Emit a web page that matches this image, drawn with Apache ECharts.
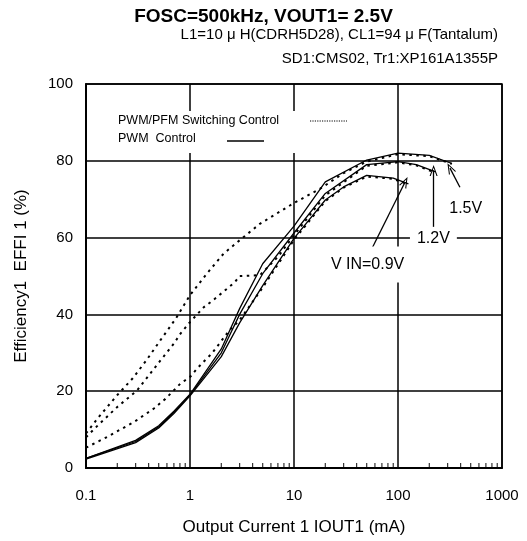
<!DOCTYPE html>
<html><head><meta charset="utf-8">
<script src="https://cdn.jsdelivr.net/npm/echarts@6/dist/echarts.min.js"></script>
<style>html,body{margin:0;padding:0;background:#fff}#c{width:527px;height:541px}</style>
</head><body><div id="c"></div>
<script>
// ---- text ----
const titleText = 'FOSC=500kHz, VOUT1= 2.5V';
const subText1 = 'L1=10 \u03bc H(CDRH5D28), CL1=94 \u03bc F(Tantalum)';
const subText2 = 'SD1:CMS02, Tr1:XP161A1355P';
const xAxisName = 'Output Current 1 IOUT1 (mA)';
const yAxisName = 'Efficiency1  EFFI 1 (%)';
const legendNames = ['PWM/PFM Switching Control', 'PWM  Control'];
const xTickLabels = ['0.1', '1', '10', '100', '1000'];
const yTickLabels = [0, 20, 40, 60, 80, 100];
const minorTickValues = [0.2,0.3,0.4,0.5,0.6,0.7,0.8,0.9,2,3,4,5,6,7,8,9,20,30,40,50,60,70,80,90,200,300,400,500,600,700,800,900];

// ---- PWM control (solid) ----
const pwm15X = [0.1, 0.3, 0.5, 0.7, 1, 2, 3, 5, 10, 20, 50, 100, 200, 330];
const pwm15Y = [2.5, 7.2, 11, 14.8, 19.2, 31, 41.5, 53.2, 63, 74.5, 80.2, 82, 81.4, 79.3];
const pwm12X = [0.1, 0.3, 0.5, 0.7, 1, 2, 3, 5, 10, 20, 50, 100, 150, 230];
const pwm12Y = [2.5, 6.9, 10.7, 14.5, 19, 30, 40, 50.6, 61.2, 71.5, 79, 79.8, 79, 77.1];
const pwm09X = [0.1, 0.3, 0.5, 0.7, 1, 2, 3, 5, 10, 20, 30, 50, 90, 126];
const pwm09Y = [2.3, 6.6, 10.4, 14.2, 18.8, 29, 37.8, 47.5, 59.8, 69.8, 73.2, 76.2, 75.5, 74];

// ---- PWM/PFM switching control (dotted) ----
const pfm15X = [0.1, 0.13, 0.2, 0.28, 0.38, 0.52, 0.73, 1, 1.45, 2.1, 3, 4.7, 10, 18, 30, 50, 100, 200, 330];
const pfm15Y = [9, 13, 19, 23.3, 28, 33.3, 38.9, 45, 50.6, 55.8, 59.3, 63.6, 69, 72.8, 76.8, 79.8, 81.7, 81.2, 79.2];
const pfm12X = [0.1, 0.13, 0.2, 0.31, 0.52, 0.7, 0.81, 1, 1.36, 1.67, 2.7, 3, 4.7, 7, 10, 20, 50, 100, 150, 230];
const pfm12Y = [8, 11.1, 15.9, 20.2, 28, 32.4, 35, 38, 41.9, 43.7, 48.4, 50, 50.2, 55, 60.6, 71, 78.7, 79.6, 78.8, 76.9];
const pfm09X = [0.1, 0.16, 0.29, 0.45, 0.58, 0.81, 1, 1.17, 1.39, 1.62, 2.4, 3, 5, 10, 20, 30, 50, 90, 126];
const pfm09Y = [5.3, 8.1, 12, 15.5, 18, 22, 23.7, 25.9, 28, 29.8, 35.9, 38.5, 47, 59.4, 69.5, 73, 75.9, 75.3, 73.8];

// ---- annotations (data coordinates) ----
const annLabels = [
  {text: '1.5V', x: 448, y: 67.6},
  {text: '1.2V', x: 219, y: 59.8},
  {text: 'V IN=0.9V', x: 51, y: 53.0}
];
const annArrows = [
  {from: [394, 73.1], to: [316, 78.1]},
  {from: [220, 62.8], to: [220, 77.5]},
  {from: [56, 57.1], to: [117, 74.5]}
];

const FONT = "'Liberation Sans', Arial, sans-serif";
const zip = (xs, ys) => xs.map((x, i) => [x, ys[i]]);
const solidStyle = {color: '#000', width: 1.3, type: 'solid'};
const dotStyle = {color: '#000', width: 2, type: [2.5, 4.5]};

function mk(name, xs, ys, style, extra) {
  return Object.assign({
    name: name, type: 'line', data: zip(xs, ys), symbol: 'none',
    lineStyle: style, itemStyle: {color: '#000'}, z: 3, animation: false
  }, extra || {});
}

const chevron = 'path://M0,10 L5,0 L10,10 L8.6,10 L5,2.6 L1.4,10 Z';

const series = [
  mk(legendNames[0], pfm15X, pfm15Y, dotStyle),
  mk(legendNames[0], pfm12X, pfm12Y, dotStyle),
  mk(legendNames[0], pfm09X, pfm09Y, dotStyle),
  mk(legendNames[1], pwm15X, pwm15Y, solidStyle, {
    markLine: {
      silent: true, animation: false,
      symbol: ['none', chevron], symbolSize: [8, 11],
      lineStyle: {color: '#000', width: 1.3, type: 'solid'},
      label: {show: false},
      data: annArrows.map(a => [{coord: a.from}, {coord: a.to}])
    },
    markPoint: {
      silent: true, animation: false,
      symbol: 'rect', symbolSize: 0,
      data: annLabels.map(l => ({
        coord: [l.x, l.y], value: l.text,
        label: {show: true, formatter: l.text, position: 'inside', color: '#000',
          fontFamily: FONT, fontSize: 16, backgroundColor: '#fff',
          padding: l.text.indexOf('IN') >= 0 ? [10, 3, 10, 3] : (l.text === '1.2V' ? [3, 7] : [2, 2])}
      }))
    }
  }),
  mk(legendNames[1], pwm12X, pwm12Y, solidStyle),
  mk(legendNames[1], pwm09X, pwm09Y, solidStyle),
  {
    name: 'minor', type: 'scatter', data: minorTickValues.map(v => [v, 0]),
    symbol: 'rect', symbolSize: [1.2, 5], symbolOffset: [0, -2.5],
    itemStyle: {color: '#000'}, silent: true, animation: false, z: 4, clip: false
  }
];

const chart = echarts.init(document.getElementById('c'), null, {renderer: 'canvas'});
chart.setOption({
  animation: false,
  backgroundColor: '#fff',
  title: [
    {text: titleText, left: 'center', top: 2,
     textStyle: {fontFamily: FONT, fontSize: 19, fontWeight: 'bold', color: '#000'}},
    {text: subText1, right: 24, top: 22,
     textStyle: {fontFamily: FONT, fontSize: 15, fontWeight: 'normal', color: '#000'}},
    {text: subText2, right: 24, top: 46,
     textStyle: {fontFamily: FONT, fontSize: 15, fontWeight: 'normal', color: '#000'}}
  ],
  grid: {left: 86, right: 25, top: 84, bottom: 73, show: true, borderColor: '#000', borderWidth: 1.5, backgroundColor: 'transparent'},
  xAxis: {
    type: 'log', logBase: 10, min: 0.1, max: 1000,
    name: xAxisName, nameLocation: 'middle', nameGap: 51,
    nameTextStyle: {fontFamily: FONT, fontSize: 17, color: '#000'},
    axisLine: {lineStyle: {color: '#000', width: 2}},
    axisTick: {show: false},
    axisLabel: {fontFamily: FONT, fontSize: 15, color: '#000', margin: 20,
      formatter: v => { const s = String(+(+v).toPrecision(3)); return xTickLabels.indexOf(s) >= 0 ? s : ''; }},
    splitLine: {show: true, lineStyle: {color: '#000', width: 1.5}},
    minorTick: {show: false}
  },
  yAxis: {
    type: 'value', min: 0, max: 100, interval: 20,
    name: yAxisName, nameLocation: 'middle', nameGap: 56,
    nameTextStyle: {fontFamily: FONT, fontSize: 17, color: '#000'},
    axisLine: {show: true, lineStyle: {color: '#000', width: 2}},
    axisTick: {show: false},
    axisLabel: {fontFamily: FONT, fontSize: 15, color: '#000', margin: 13,
      formatter: v => (yTickLabels.indexOf(v) >= 0 ? String(v) : '')},
    splitLine: {show: true, lineStyle: {color: '#000', width: 1.5}}
  },
  graphic: [
    {type: 'rect', z: 1, shape: {x: 112, y: 111, width: 243, height: 42}, style: {fill: '#fff'}},
    {type: 'text', z: 2, x: 118, y: 121, style: {text: legendNames[0], fontFamily: FONT, fontSize: 12.5, fill: '#000', verticalAlign: 'middle'}},
    {type: 'text', z: 2, x: 118, y: 139, style: {text: legendNames[1], fontFamily: FONT, fontSize: 12.5, fill: '#000', verticalAlign: 'middle'}},
    {type: 'line', z: 2, shape: {x1: 310, y1: 121, x2: 347, y2: 121}, style: {stroke: '#000', lineWidth: 1, lineDash: [1.2, 1.2]}},
    {type: 'line', z: 2, shape: {x1: 227, y1: 141, x2: 264, y2: 141}, style: {stroke: '#000', lineWidth: 1.3}}
  ],
  series: series
});
</script></body></html>
